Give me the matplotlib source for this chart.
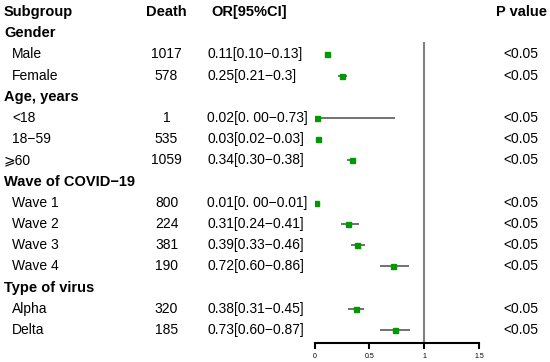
import numpy as np
import matplotlib.pyplot as plt
import matplotlib.transforms as mtransforms

plt.rcParams['font.family'] = ['Liberation Sans', 'DejaVu Sans']

# rows in order; group headers have no values
labels = ["Gender", "Male", "Female",
          "Age, years", "<18", "18\u221259", "\u2a7e60",
          "Wave of COVID\u221219", "Wave 1", "Wave 2", "Wave 3", "Wave 4",
          "Type of virus", "Alpha", "Delta"]
is_group = [True, False, False,
            True, False, False, False,
            True, False, False, False, False,
            True, False, False]
death = ["", "1017", "578", "", "1", "535", "1059", "", "800", "224", "381", "190", "", "320", "185"]
or_val = [np.nan, 0.11, 0.25, np.nan, 0.02, 0.03, 0.34, np.nan, 0.01, 0.31, 0.39, 0.72, np.nan, 0.38, 0.73]
ci_lo = [np.nan, 0.10, 0.21, np.nan, 0.00, 0.02, 0.30, np.nan, 0.00, 0.24, 0.33, 0.60, np.nan, 0.31, 0.60]
ci_hi = [np.nan, 0.13, 0.30, np.nan, 0.73, 0.03, 0.38, np.nan, 0.01, 0.41, 0.46, 0.86, np.nan, 0.45, 0.87]
or_text = ["", "0.11[0.10\u22120.13]", "0.25[0.21\u22120.3]", "",
           "0.02[0. 00\u22120.73]", "0.03[0.02\u22120.03]", "0.34[0.30\u22120.38]", "",
           "0.01[0. 00\u22120.01]", "0.31[0.24\u22120.41]", "0.39[0.33\u22120.46]", "0.72[0.60\u22120.86]", "",
           "0.38[0.31\u22120.45]", "0.73[0.60\u22120.87]"]
p_text = ["", "<0.05", "<0.05", "", "<0.05", "<0.05", "<0.05", "",
          "<0.05", "<0.05", "<0.05", "<0.05", "", "<0.05", "<0.05"]
xticks = [0, 0.5, 1, 1.5]

W, H = 550, 362
fig = plt.figure(figsize=(W / 100, H / 100), dpi=100)
ax = fig.add_axes([314.5 / W, 19 / H, (479 - 314.5) / W, 343 / H])

rows = np.arange(1, len(labels) + 1)
step = 21.2
ax.set_ylim((343 - 12) / step, -12 / step)
ax.set_xlim(0, 1.5)

# CI lines, point estimates, reference line at OR = 1
ax.hlines(rows, ci_lo, ci_hi, color='#4a4a4a', lw=1.1, zorder=2)
ax.plot(or_val, rows, 's', color='#009900', ms=3.6, mec='#009900', zorder=3, ls='none')
ax.vlines(1, (42 - 12) / step, (343 - 12) / step, color='#808080', lw=1.5, zorder=1)

for s in ['left', 'top', 'right']:
    ax.spines[s].set_visible(False)
ax.spines['bottom'].set_linewidth(1.5)
ax.spines['bottom'].set_bounds(0, 1.5)
ax.set_yticks([])
ax.set_xticks(xticks)
ax.set_xticklabels(["0", "0.5", "1", "1.5"])
ax.tick_params(axis='x', length=4, width=1.5, labelsize=5, pad=3)

# x in figure pixels, y in row units
tr = mtransforms.blended_transform_factory(fig.transFigure, ax.transData)

def fx(px):
    return px / W

ax.text(fx(4), 0, "Subgroup", transform=tr, fontsize=10.5, fontweight='bold', va='center', ha='left')
ax.text(fx(166.5), 0, "Death", transform=tr, fontsize=10.5, fontweight='bold', va='center', ha='center')
ax.text(fx(211), 0, "OR[95%CI]", transform=tr, fontsize=10.5, fontweight='bold', va='center', ha='left')
ax.text(fx(521), 0, "P value", transform=tr, fontsize=10.5, fontweight='bold', va='center', ha='center')

for i, r in enumerate(rows):
    if is_group[i]:
        ax.text(fx(4), r, labels[i], transform=tr, fontsize=10.5, fontweight='bold', va='center', ha='left')
        continue
    lx = 4 if labels[i].startswith("\u2a7e") else 12
    ax.text(fx(lx), r, labels[i], transform=tr, fontsize=10, va='center', ha='left')
    ax.text(fx(166.5), r, death[i], transform=tr, fontsize=10, va='center', ha='center')
    ax.text(fx(207), r, or_text[i], transform=tr, fontsize=10, va='center', ha='left')
    ax.text(fx(521), r, p_text[i], transform=tr, fontsize=10, va='center', ha='center')

fig.savefig("out.png", dpi=100)
